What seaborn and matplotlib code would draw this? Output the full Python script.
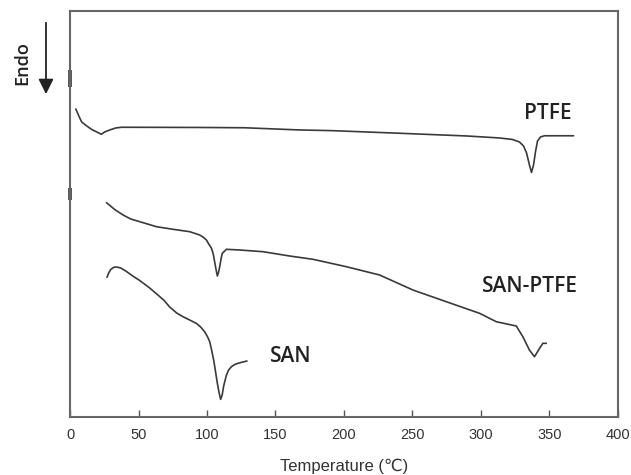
import numpy as np
import pandas as pd
import matplotlib
matplotlib.use("Agg")
import matplotlib.pyplot as plt
import seaborn as sns

# ---- data (x: temperature in degC, y: heat flow, arbitrary units) ----
ptfe_x = [4.2, 6.4, 8.5, 12.2, 15.8, 19.5, 22.8, 25.3, 29.0, 33.4, 37.7, 94.7, 127.5,
          167.7, 191.8, 240.7, 289.6, 313.6, 323.1, 328.2, 331.2, 333.4, 335.5, 337.0,
          338.5, 339.9, 341.4, 343.6, 346.5, 367.7]
ptfe_y = [308, 301, 295, 291, 287.5, 285, 282.7, 285, 287, 289, 289.7, 289.5, 289.2,
          287, 286.3, 283.7, 281, 279, 277.5, 275, 271, 264, 252, 244.5,
          252, 265, 276, 280, 281.2, 281.2]

sanptfe_x = [26.6, 32.6, 38.7, 44.3, 50.9, 63.1, 75.2, 87.4, 94.7, 97.6, 99.6, 101.3,
             103.3, 104.6, 105.6, 106.7, 107.6, 108.5, 109.3, 110.4, 111.2, 114.2,
             123.9, 140.9, 160.4, 177.4, 201.8, 226.1, 250.4, 274.8, 299.1, 311.3,
             325.9, 330.7, 335.5, 339.2, 342.9, 345.3, 347.8]
sanptfe_y = [214.3, 207.5, 202, 198, 195.3, 190.3, 187.7, 185.3, 182, 179.5, 177, 173,
             168.7, 163, 155.3, 147, 141, 145, 150.3, 159, 163.7, 167.7,
             167, 165.3, 161, 157.7, 150.3, 142, 127, 115.3, 103.7, 95.3,
             91, 80.3, 67, 60.3, 68.7, 73.7, 73.7]

san_x = [27.0, 28.2, 29.7, 31.9, 34.1, 37.0, 40.7, 45.8, 50.9, 58.2, 63.3, 68.4, 72.8,
         77.9, 82.5, 87.4, 92.2, 95.4, 98.3, 100.5, 102.0, 103.4, 104.9, 106.3, 107.6,
         108.9, 110.0, 111.1, 112.2, 114.2, 115.8, 117.8, 120.2, 122.6, 126.1, 129.2]
san_y = [139.7, 144, 147.5, 149.7, 150, 149, 146, 141, 136.5, 129, 123, 117, 110,
         104, 100.3, 97, 93.7, 90, 85.3, 80, 75.3, 67, 57, 45, 33.7, 24,
         17.7, 22, 31, 42, 47, 50.3, 52.5, 53.7, 55, 56]

series_names = ["PTFE", "SAN-PTFE", "SAN"]
label_pos_x = [348.7, 335.9, 145.8]
label_pos_y = [303.5, 131.0, 60.5]

xticks = [0, 50, 100, 150, 200, 250, 300, 350, 400]

# ---- build table ----
df = pd.concat([
    pd.DataFrame({"T": ptfe_x, "H": ptfe_y, "sample": "PTFE"}),
    pd.DataFrame({"T": sanptfe_x, "H": sanptfe_y, "sample": "SAN-PTFE"}),
    pd.DataFrame({"T": san_x, "H": san_y, "sample": "SAN"}),
], ignore_index=True)

sns.set_theme(style="white")
plt.rcParams["font.family"] = ["Liberation Sans", "DejaVu Sans"]

fig = plt.figure(figsize=(6.31, 4.75), dpi=100)
ax = fig.add_axes([0.111, 0.122, 0.868, 0.855])

for name in series_names:
    sub = df[df["sample"] == name]
    sns.lineplot(data=sub, x="T", y="H", sort=False, estimator=None,
                 color="#3a3a3a", linewidth=1.2, ax=ax)

ax.set_xlim(0, 400)
ax.set_ylim(0, 406)
ax.set_xticks(xticks)
ax.set_xticklabels([str(t) for t in xticks])
ax.set_yticks([])
ax.set_ylabel("")
ax.set_xlabel("Temperature (\u2103)", fontsize=12, color="#333333", labelpad=12,
              family=["Liberation Sans", "DejaVu Sans"])
ax.tick_params(axis="x", direction="in", length=5, width=1.0, colors="#555555",
               labelcolor="#333333", labelsize=10.5, pad=8, bottom=True)
for s in ax.spines.values():
    s.set_color("#666666")
    s.set_linewidth(1.5)

# thick marks on the left spine
ax.plot([0, 0], [330, 347], transform=ax.get_yaxis_transform(), color="#333333",
        lw=2.6, clip_on=False, solid_capstyle="butt")
ax.plot([0, 0], [217, 229], transform=ax.get_yaxis_transform(), color="#333333",
        lw=2.6, clip_on=False, solid_capstyle="butt")

# curve labels
for name, lx, ly in zip(series_names, label_pos_x, label_pos_y):
    ha = "left" if name == "SAN" else "center"
    ax.text(lx, ly, name, ha=ha, va="center", fontsize=15,
            family=["Open Sans", "DejaVu Sans"], fontweight="semibold", color="#222222")

# Endo arrow
fig.text(0.0357, 0.867, "Endo", rotation=90, ha="center", va="center", fontsize=13,
         family=["Open Sans", "DejaVu Sans"], fontweight="semibold", color="#222222")
fig.add_artist(matplotlib.patches.FancyArrowPatch(
    (0.0729, 0.958), (0.0729, 0.796), transform=fig.transFigure,
    arrowstyle="-|>,head_length=6,head_width=3", color="#222222", lw=1.3,
    mutation_scale=1.5))

fig.savefig("out.png", dpi=100)
